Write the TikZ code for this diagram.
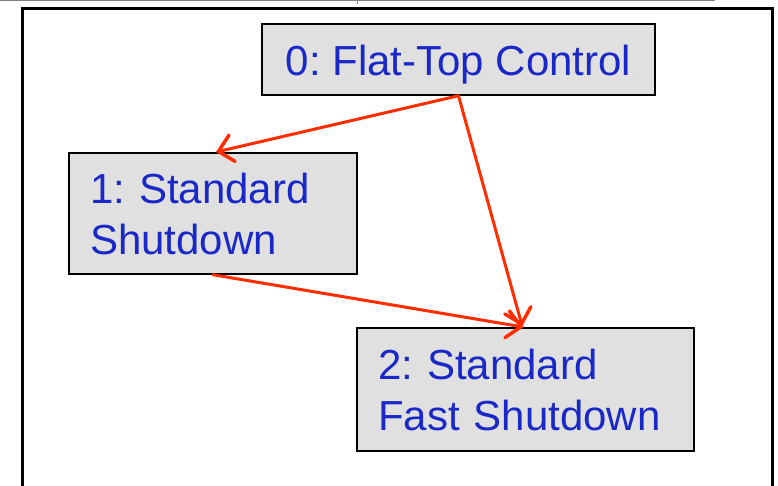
\documentclass[tikz,border=0pt]{standalone}
\usepackage{fontspec}
\setmainfont{Liberation Sans}
\usetikzlibrary{arrows.meta}
\definecolor{txtblue}{RGB}{26,40,200}
\definecolor{boxgray}{RGB}{224,224,224}
\definecolor{arrred}{RGB}{255,45,0}
\tikzset{
  statebox/.style={draw=black, line width=1.5pt, fill=boxgray, text=txtblue,
    font=\fontsize{42}{51}\selectfont\frenchspacing, inner xsep=21pt, inner ysep=0pt,
    anchor=center},
  trans/.style={draw=arrred, line width=3pt, line cap=round,
    -{Straight Barb[length=14pt,width=27pt,line width=3.5pt,line cap=round]}, shorten >=1pt}
}
\begin{document}
\begin{tikzpicture}[x=1pt,y=1pt]
\useasboundingbox (0,0) rectangle (778,486);
% thin line at top
\draw[gray, line width=1pt] (0,485.5) -- (715,485.5);
\draw[gray, line width=1pt] (357,485.5) -- (357,482);
% frame
\draw[black, line width=3pt] (22,-10) -- (22,477) -- (772,477) -- (772,-10);
% nodes
\node[statebox, minimum width=393pt, minimum height=71pt, text height=32pt, text depth=0pt, align=center] (n0) at (458.5,426.5) {0: Flat-Top Control};
\node[statebox, minimum width=288pt, minimum height=121pt, text width=246pt, align=left] (n1) at (213,272.5) {1: Standard\\Shutdown};
\node[statebox, minimum width=337pt, minimum height=123pt, text width=295pt, align=left] (n2) at (525.5,96.5) {2: Standard\\Fast Shutdown};
% connectors
\draw[trans] (n0.south) -- ([xshift=2pt]n1.north);
\draw[trans] (n0.south) -- ([xshift=-3pt]n2.north);
\draw[trans] (n1.south) -- ([xshift=-1pt]n2.north);
\end{tikzpicture}
\end{document}
